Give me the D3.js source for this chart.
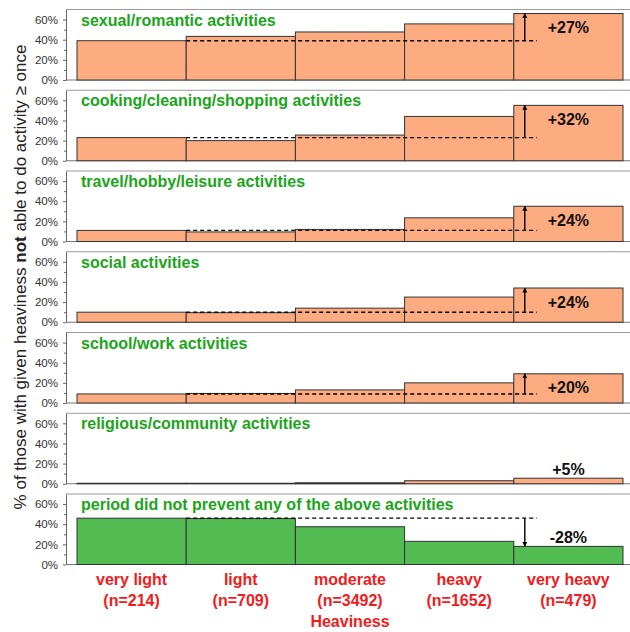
<!DOCTYPE html>
<html>
<head>
<meta charset="utf-8">
<script src="https://cdn.jsdelivr.net/npm/d3@7"></script>
<style>
  html, body { margin: 0; padding: 0; background: #fff; }
  svg { display: block; font-family: "Liberation Sans", Arial, Helvetica, sans-serif; }
</style>
</head>
<body>
<svg id="chart" width="630" height="632"></svg>
<script>
// Heaviness categories and sample sizes
const categories = ["very light", "light", "moderate", "heavy", "very heavy"];
const sampleSizes = [214, 709, 3492, 1652, 479];

// Activity panels (titles)
const activities = [
  "sexual/romantic activities",
  "cooking/cleaning/shopping activities",
  "travel/hobby/leisure activities",
  "social activities",
  "school/work activities",
  "religious/community activities",
  "period did not prevent any of the above activities"
];

// % of respondents not able to do the activity at least once, by heaviness
const sexualRomantic   = [39, 43.3, 47.7, 55.7, 66];
const cookingCleaning  = [23, 20, 25.5, 44, 55];
const travelHobby      = [11, 9.5, 12, 23.5, 35];
const social           = [10, 9.5, 14, 25, 34];
const schoolWork       = [9, 9.5, 13, 20, 29];
const religious        = [0.5, 0.5, 1, 3, 5.5];
const notPrevented     = [46, 45.6, 37.5, 23, 18];

const yTicks = [0, 20, 40, 60];
const yMinorTicks = [10, 30, 50];

const series = [sexualRomantic, cookingCleaning, travelHobby, social, schoolWork, religious, notPrevented];

const svg = d3.select("#chart");

const x = d3.scaleBand().domain(categories).range([77, 623]).padding(0);

const axisX = 66;
const panelTop0 = 9.5;
const panelStep = 80.75;
const panelH = 70.5;

const orange = "#fdab80";
const green = "#52bc52";
const titleGreen = "#1aa51a";
const red = "#f21b1b";

// arrowheads
const defs = svg.append("defs");
defs.append("marker")
  .attr("id", "arrowhead")
  .attr("viewBox", "0 0 10 10")
  .attr("refX", 9).attr("refY", 5)
  .attr("markerWidth", 5).attr("markerHeight", 6)
  .attr("markerUnits", "userSpaceOnUse")
  .attr("orient", "auto")
  .append("path").attr("d", "M0,0 L10,5 L0,10 Z").attr("fill", "#000");

series.forEach((vals, i) => {
  const top = panelTop0 + i * panelStep;
  const zero = top + panelH;
  const y = d3.scaleLinear().domain([0, 70]).range([zero, top]);
  const g = svg.append("g");
  const isGreen = i === series.length - 1;

  // panel frame
  g.append("line").attr("x1", axisX).attr("x2", 632).attr("y1", top).attr("y2", top)
    .attr("stroke", "#9a9a9a").attr("stroke-width", 1);
  g.append("line").attr("x1", axisX).attr("x2", 632).attr("y1", zero).attr("y2", zero)
    .attr("stroke", "#777").attr("stroke-width", 1);

  // y axis
  const ax = g.append("g").attr("transform", `translate(${axisX},0)`)
    .call(d3.axisLeft(y).tickValues(yTicks).tickFormat(d => d + "%").tickSize(3).tickPadding(5).tickSizeOuter(0));
  ax.select(".domain").attr("stroke", "#666");
  ax.selectAll(".tick line").attr("stroke", "#666");
  ax.selectAll(".tick text").attr("font-size", 11.5).attr("fill", "#333")
    .attr("font-family", "Liberation Sans, Arial, sans-serif");
  g.append("g").attr("transform", `translate(${axisX},0)`)
    .call(d3.axisLeft(y).tickValues(yMinorTicks).tickFormat("").tickSize(2).tickSizeOuter(0))
    .call(s => s.select(".domain").remove())
    .selectAll(".tick line").attr("stroke", "#666");

  // bars
  g.selectAll("rect.bar").data(vals).join("rect")
    .attr("class", "bar")
    .attr("x", (d, j) => x(categories[j]))
    .attr("y", d => y(d))
    .attr("width", x.bandwidth())
    .attr("height", d => zero - y(d))
    .attr("fill", isGreen ? green : orange)
    .attr("stroke", "#333")
    .attr("stroke-width", 1);

  // panel title
  g.append("text").attr("x", 81).attr("y", top + 16)
    .attr("font-size", 16).attr("font-weight", "bold").attr("fill", titleGreen)
    .text(activities[i]);

  // change from lightest to heaviest
  const first = vals[0], last = vals[vals.length - 1];
  const diff = Math.round(last - first);
  const lastX = x(categories[categories.length - 1]);
  if (Math.abs(diff) >= 10) {
    g.append("line")
      .attr("x1", x(categories[1])).attr("x2", lastX + 23)
      .attr("y1", y(first)).attr("y2", y(first))
      .attr("stroke", "#000").attr("stroke-width", 1.4).attr("stroke-dasharray", "4,3");
    g.append("line")
      .attr("x1", lastX + 11).attr("x2", lastX + 11)
      .attr("y1", y(first)).attr("y2", y(last))
      .attr("stroke", "#000").attr("stroke-width", 1.4)
      .attr("marker-end", "url(#arrowhead)");
  }
  const labelY = (zero - y(last) < 20) ? y(last) - 9 : y(Math.max(first, last)) + 14;
  g.append("text")
    .attr("x", lastX + x.bandwidth() / 2).attr("y", labelY)
    .attr("text-anchor", "middle").attr("dominant-baseline", "central")
    .attr("font-size", 16).attr("font-weight", "bold").attr("fill", "#111")
    .text((diff > 0 ? "+" : "") + diff + "%");
});

// category labels
const catG = svg.append("g");
categories.forEach((c, j) => {
  const cx = x(c) + x.bandwidth() / 2;
  catG.append("text").attr("x", cx).attr("y", 585)
    .attr("text-anchor", "middle").attr("font-size", 16).attr("font-weight", "bold").attr("fill", red)
    .text(c);
  catG.append("text").attr("x", cx).attr("y", 606)
    .attr("text-anchor", "middle").attr("font-size", 16).attr("font-weight", "bold").attr("fill", red)
    .text(`(n=${sampleSizes[j]})`);
});
svg.append("text").attr("x", 350).attr("y", 627)
  .attr("text-anchor", "middle").attr("font-size", 16).attr("font-weight", "bold").attr("fill", red)
  .text("Heaviness");

// y axis title
const yt = svg.append("text")
  .attr("transform", "translate(26,277) rotate(-90)")
  .attr("text-anchor", "middle").attr("font-size", 17).attr("fill", "#222");
yt.append("tspan").text("% of those with given heaviness ");
yt.append("tspan").attr("font-weight", "bold").text("not");
yt.append("tspan").text(" able to do activity \u2265 once");
</script>
</body>
</html>
